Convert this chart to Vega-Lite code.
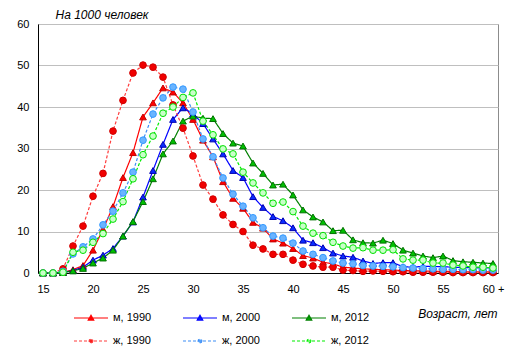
{
  "$schema": "https://vega.github.io/schema/vega-lite/v6.json",
  "width": 460,
  "height": 249,
  "autosize": "none",
  "padding": {"left": 38, "top": 24, "right": 16, "bottom": 85},
  "background": "#ffffff",
  "config": {
    "font": "Liberation Sans",
    "view": {"stroke": "#8c8c8c", "strokeWidth": 1},
    "axis": {"labelFont": "Liberation Sans", "titleFont": "Liberation Sans", "labelColor": "#000000", "titleColor": "#000000", "domainColor": "#000000", "domainWidth": 1, "ticks": false, "labelFontSize": 11}
  },
  "data": {"values": [
    {"a":15,"s":"м, 1990","v":0},{"a":16,"s":"м, 1990","v":0},{"a":17,"s":"м, 1990","v":0.2},{"a":18,"s":"м, 1990","v":0.8},{"a":19,"s":"м, 1990","v":1.8},
    {"a":20,"s":"м, 1990","v":5.5},{"a":21,"s":"м, 1990","v":10.5},{"a":22,"s":"м, 1990","v":16},{"a":23,"s":"м, 1990","v":23},{"a":24,"s":"м, 1990","v":29},
    {"a":25,"s":"м, 1990","v":37.6},{"a":26,"s":"м, 1990","v":41},{"a":27,"s":"м, 1990","v":44.6},{"a":28,"s":"м, 1990","v":43.6},{"a":29,"s":"м, 1990","v":41},
    {"a":30,"s":"м, 1990","v":37},{"a":31,"s":"м, 1990","v":32},{"a":32,"s":"м, 1990","v":28},{"a":33,"s":"м, 1990","v":22},{"a":34,"s":"м, 1990","v":18},
    {"a":35,"s":"м, 1990","v":15.6},{"a":36,"s":"м, 1990","v":12.2},{"a":37,"s":"м, 1990","v":10.8},{"a":38,"s":"м, 1990","v":8.2},{"a":39,"s":"м, 1990","v":7.2},
    {"a":40,"s":"м, 1990","v":5.9},{"a":41,"s":"м, 1990","v":4.2},{"a":42,"s":"м, 1990","v":3.6},{"a":43,"s":"м, 1990","v":2.6},{"a":44,"s":"м, 1990","v":2.2},
    {"a":45,"s":"м, 1990","v":1.4},{"a":46,"s":"м, 1990","v":1.2},{"a":47,"s":"м, 1990","v":1.0},{"a":48,"s":"м, 1990","v":0.9},{"a":49,"s":"м, 1990","v":0.8},
    {"a":50,"s":"м, 1990","v":0.7},{"a":51,"s":"м, 1990","v":0.6},{"a":52,"s":"м, 1990","v":0.5},{"a":53,"s":"м, 1990","v":0.5},{"a":54,"s":"м, 1990","v":0.4},
    {"a":55,"s":"м, 1990","v":0.4},{"a":56,"s":"м, 1990","v":0.4},{"a":57,"s":"м, 1990","v":0.3},{"a":58,"s":"м, 1990","v":0.3},{"a":59,"s":"м, 1990","v":0.3},{"a":60,"s":"м, 1990","v":0.3},

    {"a":15,"s":"м, 2000","v":0},{"a":16,"s":"м, 2000","v":0},{"a":17,"s":"м, 2000","v":0.1},{"a":18,"s":"м, 2000","v":0.6},{"a":19,"s":"м, 2000","v":1.4},
    {"a":20,"s":"м, 2000","v":3.1},{"a":21,"s":"м, 2000","v":4.3},{"a":22,"s":"м, 2000","v":5.9},{"a":23,"s":"м, 2000","v":8.9},{"a":24,"s":"м, 2000","v":12.3},
    {"a":25,"s":"м, 2000","v":18.3},{"a":26,"s":"м, 2000","v":24.7},{"a":27,"s":"м, 2000","v":31},{"a":28,"s":"м, 2000","v":37},{"a":29,"s":"м, 2000","v":39.8},
    {"a":30,"s":"м, 2000","v":38.3},{"a":31,"s":"м, 2000","v":36},{"a":32,"s":"м, 2000","v":32.3},{"a":33,"s":"м, 2000","v":28.7},{"a":34,"s":"м, 2000","v":24.7},
    {"a":35,"s":"м, 2000","v":23},{"a":36,"s":"м, 2000","v":18.4},{"a":37,"s":"м, 2000","v":15.8},{"a":38,"s":"м, 2000","v":13.6},{"a":39,"s":"м, 2000","v":12.6},
    {"a":40,"s":"м, 2000","v":10.9},{"a":41,"s":"м, 2000","v":7.9},{"a":42,"s":"м, 2000","v":7.3},{"a":43,"s":"м, 2000","v":6.1},{"a":44,"s":"м, 2000","v":4.8},
    {"a":45,"s":"м, 2000","v":4.1},{"a":46,"s":"м, 2000","v":3.8},{"a":47,"s":"м, 2000","v":2.9},{"a":48,"s":"м, 2000","v":2.3},{"a":49,"s":"м, 2000","v":2.5},
    {"a":50,"s":"м, 2000","v":2.5},{"a":51,"s":"м, 2000","v":1.5},{"a":52,"s":"м, 2000","v":1.4},{"a":53,"s":"м, 2000","v":1.6},{"a":54,"s":"м, 2000","v":1.6},
    {"a":55,"s":"м, 2000","v":1.5},{"a":56,"s":"м, 2000","v":1.4},{"a":57,"s":"м, 2000","v":1.3},{"a":58,"s":"м, 2000","v":1.3},{"a":59,"s":"м, 2000","v":1.2},{"a":60,"s":"м, 2000","v":1.2},

    {"a":15,"s":"м, 2012","v":0},{"a":16,"s":"м, 2012","v":0},{"a":17,"s":"м, 2012","v":0.1},{"a":18,"s":"м, 2012","v":0.5},{"a":19,"s":"м, 2012","v":1.1},
    {"a":20,"s":"м, 2012","v":2.4},{"a":21,"s":"м, 2012","v":3.6},{"a":22,"s":"м, 2012","v":5.5},{"a":23,"s":"м, 2012","v":8.9},{"a":24,"s":"м, 2012","v":12.4},
    {"a":25,"s":"м, 2012","v":17.2},{"a":26,"s":"м, 2012","v":22.7},{"a":27,"s":"м, 2012","v":28.7},{"a":28,"s":"м, 2012","v":31.8},{"a":29,"s":"м, 2012","v":36.6},
    {"a":30,"s":"м, 2012","v":37.8},{"a":31,"s":"м, 2012","v":37.3},{"a":32,"s":"м, 2012","v":37.2},{"a":33,"s":"м, 2012","v":33.6},{"a":34,"s":"м, 2012","v":31.3},
    {"a":35,"s":"м, 2012","v":30.6},{"a":36,"s":"м, 2012","v":26.5},{"a":37,"s":"м, 2012","v":24},{"a":38,"s":"м, 2012","v":21.2},{"a":39,"s":"м, 2012","v":21.4},
    {"a":40,"s":"м, 2012","v":18.8},{"a":41,"s":"м, 2012","v":15.2},{"a":42,"s":"м, 2012","v":13.5},{"a":43,"s":"м, 2012","v":12.3},{"a":44,"s":"м, 2012","v":10.2},
    {"a":45,"s":"м, 2012","v":10.3},{"a":46,"s":"м, 2012","v":8},{"a":47,"s":"м, 2012","v":7.3},{"a":48,"s":"м, 2012","v":7.2},{"a":49,"s":"м, 2012","v":7.9},
    {"a":50,"s":"м, 2012","v":7.1},{"a":51,"s":"м, 2012","v":5.5},{"a":52,"s":"м, 2012","v":4.8},{"a":53,"s":"м, 2012","v":4.1},{"a":54,"s":"м, 2012","v":3.7},
    {"a":55,"s":"м, 2012","v":4.1},{"a":56,"s":"м, 2012","v":3.0},{"a":57,"s":"м, 2012","v":2.7},{"a":58,"s":"м, 2012","v":2.6},{"a":59,"s":"м, 2012","v":2.4},{"a":60,"s":"м, 2012","v":2.3},

    {"a":15,"s":"ж, 1990","v":0},{"a":16,"s":"ж, 1990","v":0},{"a":17,"s":"ж, 1990","v":1},{"a":18,"s":"ж, 1990","v":6.5},{"a":19,"s":"ж, 1990","v":11.3},
    {"a":20,"s":"ж, 1990","v":18.5},{"a":21,"s":"ж, 1990","v":24},{"a":22,"s":"ж, 1990","v":34.2},{"a":23,"s":"ж, 1990","v":41.6},{"a":24,"s":"ж, 1990","v":48.2},
    {"a":25,"s":"ж, 1990","v":50.1},{"a":26,"s":"ж, 1990","v":49.6},{"a":27,"s":"ж, 1990","v":47.2},{"a":28,"s":"ж, 1990","v":40.5},{"a":29,"s":"ж, 1990","v":34.9},
    {"a":30,"s":"ж, 1990","v":28.2},{"a":31,"s":"ж, 1990","v":21.2},{"a":32,"s":"ж, 1990","v":17.8},{"a":33,"s":"ж, 1990","v":14},{"a":34,"s":"ж, 1990","v":11.7},
    {"a":35,"s":"ж, 1990","v":10},{"a":36,"s":"ж, 1990","v":6.7},{"a":37,"s":"ж, 1990","v":5.8},{"a":38,"s":"ж, 1990","v":4.5},{"a":39,"s":"ж, 1990","v":4.5},
    {"a":40,"s":"ж, 1990","v":3.1},{"a":41,"s":"ж, 1990","v":2.1},{"a":42,"s":"ж, 1990","v":1.7},{"a":43,"s":"ж, 1990","v":1.4},{"a":44,"s":"ж, 1990","v":1.4},
    {"a":45,"s":"ж, 1990","v":0.7},{"a":46,"s":"ж, 1990","v":0.6},{"a":47,"s":"ж, 1990","v":0.4},{"a":48,"s":"ж, 1990","v":0.5},{"a":49,"s":"ж, 1990","v":0.4},
    {"a":50,"s":"ж, 1990","v":0.3},{"a":51,"s":"ж, 1990","v":0.3},{"a":52,"s":"ж, 1990","v":0.2},{"a":53,"s":"ж, 1990","v":0.2},{"a":54,"s":"ж, 1990","v":0.2},
    {"a":55,"s":"ж, 1990","v":0.2},{"a":56,"s":"ж, 1990","v":0.1},{"a":57,"s":"ж, 1990","v":0.1},{"a":58,"s":"ж, 1990","v":0.1},{"a":59,"s":"ж, 1990","v":0.1},{"a":60,"s":"ж, 1990","v":0.1},

    {"a":15,"s":"ж, 2000","v":0},{"a":16,"s":"ж, 2000","v":0},{"a":17,"s":"ж, 2000","v":0.4},{"a":18,"s":"ж, 2000","v":4.6},{"a":19,"s":"ж, 2000","v":6.3},
    {"a":20,"s":"ж, 2000","v":8.2},{"a":21,"s":"ж, 2000","v":11.6},{"a":22,"s":"ж, 2000","v":14.9},{"a":23,"s":"ж, 2000","v":19.3},{"a":24,"s":"ж, 2000","v":24.3},
    {"a":25,"s":"ж, 2000","v":32},{"a":26,"s":"ж, 2000","v":38.3},{"a":27,"s":"ж, 2000","v":42.2},{"a":28,"s":"ж, 2000","v":44.8},{"a":29,"s":"ж, 2000","v":44.3},
    {"a":30,"s":"ж, 2000","v":38.8},{"a":31,"s":"ж, 2000","v":32.3},{"a":32,"s":"ж, 2000","v":28},{"a":33,"s":"ж, 2000","v":22.9},{"a":34,"s":"ж, 2000","v":19},
    {"a":35,"s":"ж, 2000","v":16.1},{"a":36,"s":"ж, 2000","v":13.3},{"a":37,"s":"ж, 2000","v":10.9},{"a":38,"s":"ж, 2000","v":8.9},{"a":39,"s":"ж, 2000","v":8.4},
    {"a":40,"s":"ж, 2000","v":7.2},{"a":41,"s":"ж, 2000","v":5.3},{"a":42,"s":"ж, 2000","v":4.5},{"a":43,"s":"ж, 2000","v":3.7},{"a":44,"s":"ж, 2000","v":2.9},
    {"a":45,"s":"ж, 2000","v":2.4},{"a":46,"s":"ж, 2000","v":2.2},{"a":47,"s":"ж, 2000","v":1.8},{"a":48,"s":"ж, 2000","v":1.7},{"a":49,"s":"ж, 2000","v":1.6},
    {"a":50,"s":"ж, 2000","v":1.5},{"a":51,"s":"ж, 2000","v":1.3},{"a":52,"s":"ж, 2000","v":1.2},{"a":53,"s":"ж, 2000","v":1.1},{"a":54,"s":"ж, 2000","v":1.0},
    {"a":55,"s":"ж, 2000","v":0.9},{"a":56,"s":"ж, 2000","v":0.9},{"a":57,"s":"ж, 2000","v":0.8},{"a":58,"s":"ж, 2000","v":0.8},{"a":59,"s":"ж, 2000","v":0.7},{"a":60,"s":"ж, 2000","v":0.7},

    {"a":15,"s":"ж, 2012","v":0},{"a":16,"s":"ж, 2012","v":0},{"a":17,"s":"ж, 2012","v":0.2},{"a":18,"s":"ж, 2012","v":5},{"a":19,"s":"ж, 2012","v":5.5},
    {"a":20,"s":"ж, 2012","v":7.4},{"a":21,"s":"ж, 2012","v":9.5},{"a":22,"s":"ж, 2012","v":13},{"a":23,"s":"ж, 2012","v":17.2},{"a":24,"s":"ж, 2012","v":22.7},
    {"a":25,"s":"ж, 2012","v":28.5},{"a":26,"s":"ж, 2012","v":33},{"a":27,"s":"ж, 2012","v":38.5},{"a":28,"s":"ж, 2012","v":40},{"a":29,"s":"ж, 2012","v":42.3},
    {"a":30,"s":"ж, 2012","v":43.4},{"a":31,"s":"ж, 2012","v":36.6},{"a":32,"s":"ж, 2012","v":33.3},{"a":33,"s":"ж, 2012","v":29.9},{"a":34,"s":"ж, 2012","v":28.7},
    {"a":35,"s":"ж, 2012","v":24.3},{"a":36,"s":"ж, 2012","v":21.7},{"a":37,"s":"ж, 2012","v":19.3},{"a":38,"s":"ж, 2012","v":16.8},{"a":39,"s":"ж, 2012","v":17.1},
    {"a":40,"s":"ж, 2012","v":14.8},{"a":41,"s":"ж, 2012","v":11.3},{"a":42,"s":"ж, 2012","v":9.6},{"a":43,"s":"ж, 2012","v":9},{"a":44,"s":"ж, 2012","v":7.4},
    {"a":45,"s":"ж, 2012","v":6.5},{"a":46,"s":"ж, 2012","v":6},{"a":47,"s":"ж, 2012","v":6.1},{"a":48,"s":"ж, 2012","v":5.5},{"a":49,"s":"ж, 2012","v":5.5},
    {"a":50,"s":"ж, 2012","v":5.6},{"a":51,"s":"ж, 2012","v":3.4},{"a":52,"s":"ж, 2012","v":3.1},{"a":53,"s":"ж, 2012","v":3.1},{"a":54,"s":"ж, 2012","v":2.4},
    {"a":55,"s":"ж, 2012","v":2.4},{"a":56,"s":"ж, 2012","v":1.9},{"a":57,"s":"ж, 2012","v":1.7},{"a":58,"s":"ж, 2012","v":1.4},{"a":59,"s":"ж, 2012","v":1.4},{"a":60,"s":"ж, 2012","v":1.2}
  ]},
  "encoding": {
    "x": {"field": "a", "type": "quantitative",
      "scale": {"domain": [14.5, 60.5], "nice": false, "zero": false},
      "axis": {"values": [15,20,25,30,35,40,45,50,55,60], "labelExpr": "datum.value == 60 ? '60 +' : datum.label", "grid": false, "labelPadding": 10, "labelFlush": false,
        "title": "Возраст, лет", "titleFontSize": 12, "titleFontStyle": "italic", "titleFontWeight": "normal", "titleAnchor": null, "titleAlign": "right", "titleBaseline": "alphabetic", "titleX": 459, "titleY": 44}},
    "y": {"field": "v", "type": "quantitative",
      "scale": {"domain": [0, 60], "nice": false},
      "axis": {"values": [0,10,20,30,40,50,60], "grid": true, "gridColor": "#bfbfbf", "gridWidth": 1, "labelPadding": 9,
        "title": "На 1000 человек", "titleFontSize": 12, "titleFontStyle": "italic", "titleFontWeight": "normal", "titleAngle": 0, "titleAlign": "left", "titleBaseline": "alphabetic", "titleAnchor": null, "titleX": 17, "titleY": -6}}
  },
  "layer": [
    {
      "mark": {"type": "line", "strokeWidth": 1.2},
      "encoding": {
        "color": {"field": "s", "type": "nominal",
          "scale": {"domain": ["м, 1990","м, 2000","м, 2012","ж, 1990","ж, 2000","ж, 2012"], "range": ["#ff0000","#0000ff","#008000","#ff3c3c","#3d8df5","#00ee00"]},
          "legend": {"orient": "none", "legendX": 35, "legendY": 276, "direction": "horizontal", "columns": 3, "title": null,
            "symbolSize": 1156, "symbolStrokeWidth": 1.2, "labelFontSize": 11, "labelFont": "Liberation Sans", "labelColor": "#000000", "labelOffset": 4, "columnPadding": 28, "rowPadding": 0,
            "encode": {"symbols": {"update": {
              "shape": {"signal": "indexof(datum.value, 'м') == 0 ? 'M-1,0H1M-0.16,0.12L0,-0.16L0.16,0.12Z' : 'M-1,0H1M0.11,0A0.11,0.11 0 1,1 -0.11,0A0.11,0.11 0 1,1 0.11,0Z'"},
              "strokeDash": {"signal": "indexof(datum.value, 'ж') == 0 ? [3,2] : [1,0]"},
              "fill": {"signal": "datum.value == 'м, 1990' ? '#ff0000' : datum.value == 'м, 2000' ? '#0a2bff' : datum.value == 'м, 2012' ? '#00c000' : datum.value == 'ж, 1990' ? '#f00000' : datum.value == 'ж, 2000' ? '#6ab4ff' : '#c8ffc8'"},
              "fillOpacity": {"value": 1}
            }}}}},
        "strokeDash": {"field": "s", "type": "nominal",
          "scale": {"domain": ["м, 1990","м, 2000","м, 2012","ж, 1990","ж, 2000","ж, 2012"], "range": [[1,0],[1,0],[1,0],[3,2],[3,2],[3,2]]},
          "legend": null}
      }
    },
    {"transform": [{"filter": "datum.s == 'м, 1990'"}], "mark": {"type": "point", "shape": "triangle-up", "filled": true, "size": 45, "strokeWidth": 1, "opacity": 1, "fill": "#ff0000", "stroke": "#c00000"}},
    {"transform": [{"filter": "datum.s == 'м, 2000'"}], "mark": {"type": "point", "shape": "triangle-up", "filled": true, "size": 45, "strokeWidth": 1, "opacity": 1, "fill": "#0a2bff", "stroke": "#0000b0"}},
    {"transform": [{"filter": "datum.s == 'м, 2012'"}], "mark": {"type": "point", "shape": "triangle-up", "filled": true, "size": 45, "strokeWidth": 1, "opacity": 1, "fill": "#00c000", "stroke": "#007000"}},
    {"transform": [{"filter": "datum.s == 'ж, 1990'"}], "mark": {"type": "point", "shape": "circle", "filled": true, "size": 45, "strokeWidth": 1, "opacity": 1, "fill": "#f00000", "stroke": "#d00000"}},
    {"transform": [{"filter": "datum.s == 'ж, 2000'"}], "mark": {"type": "point", "shape": "circle", "filled": true, "size": 45, "strokeWidth": 1, "opacity": 1, "fill": "#6ab4ff", "stroke": "#3399ff"}},
    {"transform": [{"filter": "datum.s == 'ж, 2012'"}], "mark": {"type": "point", "shape": "circle", "filled": true, "size": 45, "strokeWidth": 1, "opacity": 1, "fill": "#c8ffc8", "stroke": "#00e000"}}
  ]
}
